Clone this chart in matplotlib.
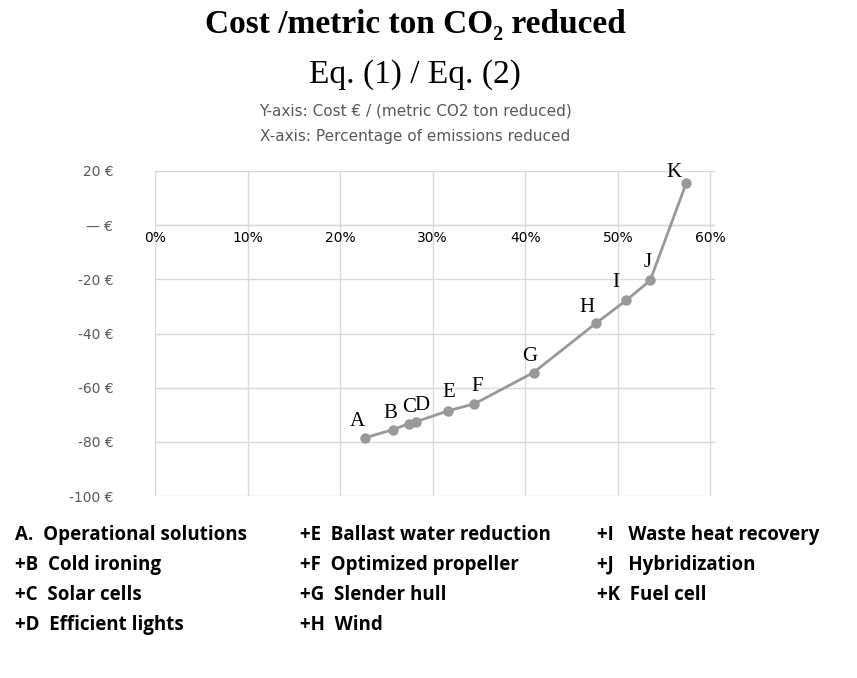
import matplotlib.pyplot as plt

labels = ['A', 'B', 'C', 'D', 'E', 'F', 'G', 'H', 'I', 'J', 'K']
pct = [22.7, 25.7, 27.4, 28.2, 31.7, 34.5, 40.9, 47.6, 50.9, 53.5, 57.4]
cost = [-78.5, -75.5, -73.3, -72.6, -68.5, -66.0, -54.4, -36.3, -27.8, -20.4, 15.6]
y_ticks = [20, 0, -20, -40, -60, -80, -100]
y_tick_labels = ['20 €', '— €', '-20 €', '-40 €', '-60 €', '-80 €', '-100 €']
x_ticks = [0, 10, 20, 30, 40, 50, 60]
legend_cols = [
    ['A.  Operational solutions', '+B  Cold ironing', '+C  Solar cells', '+D  Efficient lights'],
    ['+E  Ballast water reduction', '+F  Optimized propeller', '+G  Slender hull', '+H  Wind'],
    ['+I   Waste heat recovery', '+J   Hybridization', '+K  Fuel cell'],
]
# label offsets in points (dx, dy)
offsets = {'A': (-11, 5), 'B': (-7, 5), 'C': (-5, 5), 'D': (-1, 5), 'E': (-4, 6),
           'F': (-2, 6), 'G': (-8, 5), 'H': (-12, 5), 'I': (-10, 6), 'J': (-5, 6), 'K': (-14, 1)}

W, H = 857, 678
fig = plt.figure(figsize=(W / 100, H / 100), dpi=100)
ax = fig.add_axes([155 / W, 1 - 496 / H, 560 / W, 325 / H])
ax.set_xlim(0, 60.5)
ax.set_ylim(-100, 20)
ax.plot(pct, cost, color='#999999', lw=2, marker='o', ms=6.5, zorder=3)
for lab, x, y in zip(labels, pct, cost):
    dx, dy = offsets[lab]
    ax.annotate(lab, (x, y), xytext=(dx, dy), textcoords='offset points',
                fontsize=15, family='Liberation Serif', ha='left', va='bottom')

ax.set_yticks(y_ticks)
ax.set_yticklabels(y_tick_labels, color='#595959', fontsize=10)
ax.set_xticks(x_ticks)
ax.set_xticklabels([f'{t}%' for t in x_ticks], color='#595959', fontsize=10)
ax.spines['bottom'].set_position(('data', 0))
for s in ['top', 'right', 'left', 'bottom']:
    ax.spines[s].set_visible(False)
ax.tick_params(length=0, pad=30)
ax.tick_params(axis='x', pad=4)
ax.tick_params(axis='y', pad=30)
ax.grid(True, color='#d9d9d9', lw=1)
ax.axhline(0, color='#d9d9d9', lw=1)
ax.set_axisbelow(True)

fig.text(415 / W, 1 - 25 / H, 'Cost /metric ton CO₂ reduced', ha='center', va='center',
         fontsize=24, fontweight='bold', family='Liberation Serif')
fig.text(415 / W, 1 - 75 / H, 'Eq. (1) / Eq. (2)', ha='center', va='center',
         fontsize=24, family='Liberation Serif')
fig.text(415 / W, 1 - 111 / H, 'Y-axis: Cost € / (metric CO2 ton reduced)', ha='center',
         va='center', fontsize=11, color='#595959')
fig.text(415 / W, 1 - 136 / H, 'X-axis: Percentage of emissions reduced', ha='center',
         va='center', fontsize=11, color='#595959')

col_x = [15, 300, 597]
for cx, items in zip(col_x, legend_cols):
    for i, t in enumerate(items):
        fig.text(cx / W, 1 - (535 + 30 * i) / H, t, ha='left', va='center',
                 fontsize=13.5, fontweight='bold', family='Open Sans')

fig.savefig('out.png', dpi=100)
